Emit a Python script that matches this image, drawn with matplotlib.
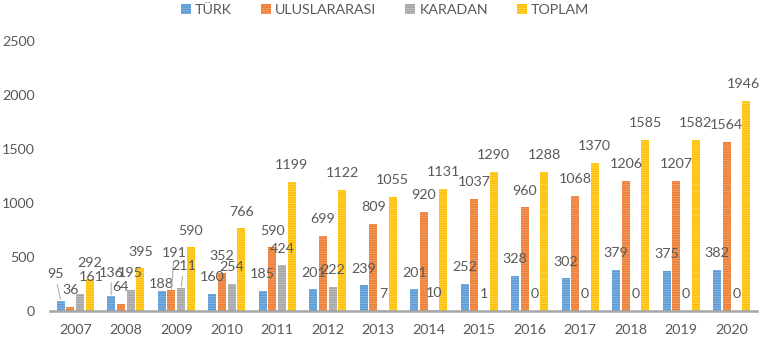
import matplotlib.pyplot as plt
import numpy as np

yillar = ['2007', '2008', '2009', '2010', '2011', '2012', '2013',
          '2014', '2015', '2016', '2017', '2018', '2019', '2020']
turk = [95, 136, 188, 160, 185, 201, 239, 201, 252, 328, 302, 379, 375, 382]
uluslararasi = [36, 64, 191, 352, 590, 699, 809, 920, 1037, 960, 1068, 1206, 1207, 1564]
karadan = [161, 195, 211, 254, 424, 222, 7, 10, 1, 0, 0, 0, 0, 0]
toplam = [292, 395, 590, 766, 1199, 1122, 1055, 1131, 1290, 1288, 1370, 1585, 1582, 1946]

seriler = ['TÜRK', 'ULUSLARARASI', 'KARADAN', 'TOPLAM']
renkler = ['#5B9BD5', '#ED7D31', '#A5A5A5', '#FFC000']
cizgi_renk = ['#8DB9E2', '#F2A574', '#C4C4C4', '#FFD659']

# elle kaydirilan etiketler: (yil, seri) -> (dx, dy, cizgi)  [punto]
kaydir = {
    (0, 0): (-4, 7, True),
    (0, 2): (8, 0, False),
    (1, 0): (0, 5, True),
    (2, 0): (0, -7, False),
    (2, 1): (2, 15, True),
    (2, 2): (2, 4, True),
    (13, 3): (-2, 0, False),
}

plt.rcParams['font.family'] = ['Lato', 'DejaVu Sans']
plt.rcParams['hatch.linewidth'] = 0.6
gri = '#595959'

fig = plt.figure(figsize=(7.61, 3.44), dpi=100)
ax = fig.add_axes([50 / 761, 33 / 344, 707 / 761, 270 / 344])

x = np.arange(len(yillar))
adim = 0.192
genislik = 0.162
degerler = [turk, uluslararasi, karadan, toplam]

for i, (ad, veri) in enumerate(zip(seriler, degerler)):
    xs = x + (i - 1.5) * adim
    ax.bar(xs, veri, genislik, color=renkler[i], edgecolor=cizgi_renk[i],
           linewidth=0, hatch='-------', label=ad, zorder=2)
    for j, v in enumerate(veri):
        dx, dy, cizgi = kaydir.get((j, i), (0, 0, False))
        ax.annotate(str(v), xy=(xs[j], v), xytext=(dx, 12 + dy),
                    textcoords='offset points', ha='center', va='center',
                    fontsize=10.3, color=gri, zorder=3,
                    arrowprops=dict(arrowstyle='-', color='#A6A6A6', lw=0.7,
                                    shrinkA=1, shrinkB=1) if cizgi else None)

ax.set_xlim(-0.5, len(yillar) - 0.5)
ax.set_ylim(0, 2500)
ax.set_yticks(range(0, 2501, 500))
ax.set_xticks(x)
ax.set_xticklabels(yillar)
ax.tick_params(axis='both', length=0, labelsize=10.3, colors=gri)
ax.tick_params(axis='y', pad=11)
ax.tick_params(axis='x', pad=9)

for s in ['top', 'right', 'left']:
    ax.spines[s].set_visible(False)
ax.spines['bottom'].set_color('#A6A6A6')
ax.spines['bottom'].set_linewidth(1.8)
ax.spines['bottom'].set_zorder(4)

fig.legend(loc='upper center', bbox_to_anchor=(385 / 761, 1.025), ncol=4,
           frameon=False, fontsize=10.3, labelcolor=gri, handlelength=0.7,
           handleheight=0.7, handletextpad=0.3, columnspacing=2.0)

fig.savefig('out.png', dpi=100)
